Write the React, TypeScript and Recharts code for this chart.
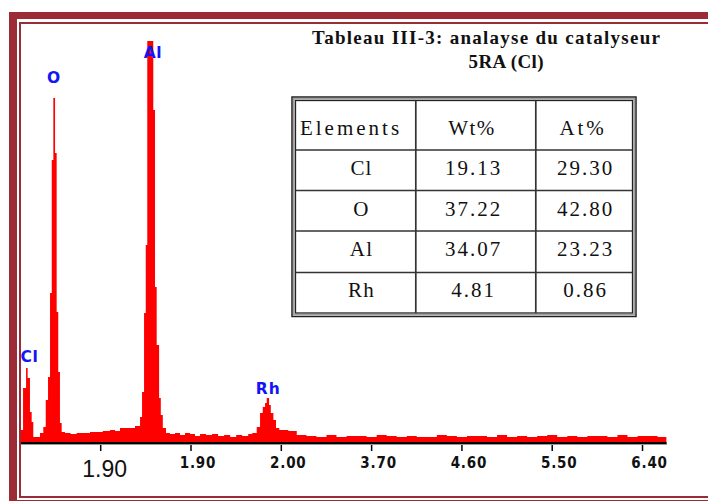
import React from 'react';
import { AreaChart, Area, XAxis, YAxis, ReferenceDot } from 'recharts';

// Spectrum: energy (keV) and counts (arbitrary)
const energyKeV = [
  0.205, 0.226, 0.256, 0.272, 0.295, 0.312, 0.328, 0.395, 0.428,
  0.452, 0.475, 0.495, 0.512, 0.528, 0.545, 0.561, 0.577, 0.594, 0.611,
  0.644, 0.70, 0.76, 0.82, 0.893, 0.95, 1.02, 1.093, 1.143, 1.192, 1.26,
  1.342, 1.392, 1.412, 1.432, 1.449, 1.464, 1.524, 1.541, 1.558, 1.582,
  1.599, 1.619, 1.651, 1.69, 1.74, 1.79, 1.84, 1.89, 1.94, 1.99, 2.05,
  2.11, 2.17, 2.23, 2.29, 2.35, 2.41, 2.47, 2.51, 2.555, 2.588, 2.615,
  2.638, 2.655, 2.678, 2.695, 2.721, 2.747, 2.78, 2.87, 2.954,
  3.05, 3.15, 3.25, 3.35, 3.45, 3.55, 3.65, 3.75, 3.85, 3.95, 4.05, 4.15,
  4.25, 4.35, 4.45, 4.55, 4.65, 4.75, 4.85, 4.95, 5.05, 5.15, 5.25, 5.35,
  5.45, 5.55, 5.65, 5.75, 5.85, 5.95, 6.05, 6.15, 6.25, 6.35, 6.45, 6.55,
  6.64,
];
const counts = [
  13, 55, 75, 65, 31, 21, 6, 10, 16,
  43, 66, 150, 283, 345, 290, 131, 71, 20, 11,
  10, 9, 10, 10, 11, 11, 12, 13, 12, 15, 15,
  17, 26, 51, 130, 198, 402, 333, 156, 98, 45,
  28, 15, 10, 9, 10, 8, 10, 9, 7, 9, 8,
  9, 7, 8, 6, 8, 7, 9, 10, 16, 30, 36,
  40, 45, 38, 30, 23, 15, 13, 12, 8,
  7, 6, 8, 6, 7, 7, 6, 8, 7, 6, 7, 6,
  6, 8, 7, 6, 7, 7, 6, 8, 6, 7, 6, 7,
  8, 6, 7, 6, 7, 7, 6, 8, 6, 7, 7, 6,
  7,
];

// Axis ticks (values) and the labels as printed
const tickValues = [1.0, 1.9, 2.8, 3.7, 4.6, 5.5, 6.4];
const tickLabels = ['1.90', '1.90', '2.00', '3.70', '4.60', '5.50', '6.40'];

// Peak labels
const peakNames = ['Cl', 'O', 'Al', 'Rh'];
const peakX = [0.29, 0.533, 1.52, 2.67];
const peakY = [81, 360, 385, 49];

// Table
const tableTitle1 = 'Tableau III-3: analayse du catalyseur';
const tableTitle2 = '5RA (Cl)';
const tableHeaders = ['Elements', 'Wt%', 'At%'];
const tableElements = ['Cl', 'O', 'Al', 'Rh'];
const tableWt = ['19.13', '37.22', '34.07', '4.81'];
const tableAt = ['29.30', '42.80', '23.23', '0.86'];

const data = energyKeV.map((e, i) => ({ e, c: counts[i] }));

const FRAME = '#9b2c35';
const SERIF = "'Liberation Serif', 'Times New Roman', serif";

const AxisTick = (props: any) => {
  const { x, y, index } = props;
  const label = tickLabels[index] ?? '';
  if (index === 0) {
    return (
      <text x={x + 4} y={y + 24} textAnchor="middle" fontFamily="'Liberation Sans', Arial, sans-serif" fontSize={23} fill="#111">
        {label}
      </text>
    );
  }
  return (
    <text x={x + 7} y={y + 15} textAnchor="middle" fontFamily="'DejaVu Sans Condensed', 'DejaVu Sans', sans-serif" fontStretch="condensed" fontWeight="bold" fontSize={15} letterSpacing={0.8} fill="#111">
      {label}
    </text>
  );
};

const PeakLabel = (name: string) => (props: any) => {
  const { cx, cy } = props;
  return (
    <text x={cx} y={cy} textAnchor="middle" fontFamily="'DejaVu Sans', sans-serif" fontWeight="bold" fontSize={15.5} letterSpacing={name === 'Rh' ? 1 : 0.5} fill="#1414f5">
      {name}
    </text>
  );
};

const colX = [415.8, 535.8];
const rowY = [150, 190.5, 231, 272.5];
const rowBase = [174.5, 215.5, 256, 296.5];
const headerX = [351, 472, 583];
const headerSpacing = [3, 1.5, 2.8];

const TableSvg = () => (
  <svg width={708} height={501} style={{ position: 'absolute', left: 0, top: 0 }}>
    <text x={486} y={44} textAnchor="middle" fontFamily={SERIF} fontWeight="bold" fontSize={19} textLength={348} lengthAdjust="spacing" fill="#111">
      {tableTitle1}
    </text>
    <text x={506} y={68} textAnchor="middle" fontFamily={SERIF} fontWeight="bold" fontSize={19} textLength={75} lengthAdjust="spacing" fill="#111">
      {tableTitle2}
    </text>
    <rect x={292} y={97} width={344} height={219.5} fill="#fff" stroke="#222" strokeWidth={1.5} />
    <rect x={293.8} y={98.8} width={340.4} height={215.9} fill="none" stroke="#a0a0a0" strokeWidth={1.6} />
    <rect x={295.5} y={100.5} width={337} height={212.5} fill="none" stroke="#222" strokeWidth={1.3} />
    {colX.map((cx) => (
      <line key={cx} x1={cx} x2={cx} y1={100.5} y2={313} stroke="#333" strokeWidth={1.7} />
    ))}
    {rowY.map((ry) => (
      <line key={ry} x1={295.5} x2={632.5} y1={ry} y2={ry} stroke="#333" strokeWidth={1.7} />
    ))}
    {tableHeaders.map((h, i) => (
      <text key={h} x={headerX[i]} y={135} textAnchor="middle" fontFamily={SERIF} fontSize={21} letterSpacing={headerSpacing[i]} fill="#111">
        {h}
      </text>
    ))}
    {tableElements.map((el, i) => (
      <g key={el}>
        <text x={361.5} y={rowBase[i]} textAnchor="middle" fontFamily={SERIF} fontSize={21} letterSpacing={1.2} fill="#111">{el}</text>
        <text x={473.5} y={rowBase[i]} textAnchor="middle" fontFamily={SERIF} fontSize={21} letterSpacing={2} fill="#111">{tableWt[i]}</text>
        <text x={585.5} y={rowBase[i]} textAnchor="middle" fontFamily={SERIF} fontSize={21} letterSpacing={2} fill="#111">{tableAt[i]}</text>
      </g>
    ))}
  </svg>
);

export default function App() {
  return (
    <div style={{ position: 'absolute', left: 0, top: 0, width: 708, height: 501, overflow: 'hidden', background: '#fff' }}>
      <div style={{ position: 'absolute', left: 0, top: 0 }}>
        <AreaChart width={708} height={501} data={data} margin={{ top: 41, right: 41.4, bottom: 18, left: 20.44 }}>
          <XAxis
            dataKey="e"
            type="number"
            domain={[0.2, 6.64]}
            ticks={tickValues}
            interval={0}
            allowDataOverflow
            height={40}
            tickSize={8}
            tickMargin={2}
            axisLine={{ stroke: '#000', strokeWidth: 2 }}
            tickLine={{ stroke: '#000', strokeWidth: 1.5 }}
            tick={<AxisTick />}
          />
          <YAxis hide domain={[0, 402]} allowDataOverflow />
          <Area
            type="stepAfter"
            dataKey="c"
            stroke="none"
            fill="#ff0000"
            fillOpacity={1}
            isAnimationActive={false}
            dot={false}
            activeDot={false}
          />
          {peakNames.map((n, i) => (
            <ReferenceDot key={n} x={peakX[i]} y={peakY[i]} r={1} ifOverflow="visible" shape={PeakLabel(n)} />
          ))}
        </AreaChart>
      </div>
      <div style={{ position: 'absolute', left: 21, top: 444, width: 646, height: 1, background: '#9a9a9a' }} />
      <TableSvg />
      <div style={{ position: 'absolute', left: 9, top: 12, width: 800, height: 495, borderLeft: `8px solid ${FRAME}`, borderTop: `7px solid ${FRAME}`, borderBottom: `7px solid ${FRAME}`, boxSizing: 'border-box' }} />
      <div style={{ position: 'absolute', left: 19, top: 22, width: 800, height: 476, borderLeft: `2px solid ${FRAME}`, borderTop: `2px solid ${FRAME}`, borderBottom: `2px solid ${FRAME}`, boxSizing: 'border-box' }} />
    </div>
  );
}
